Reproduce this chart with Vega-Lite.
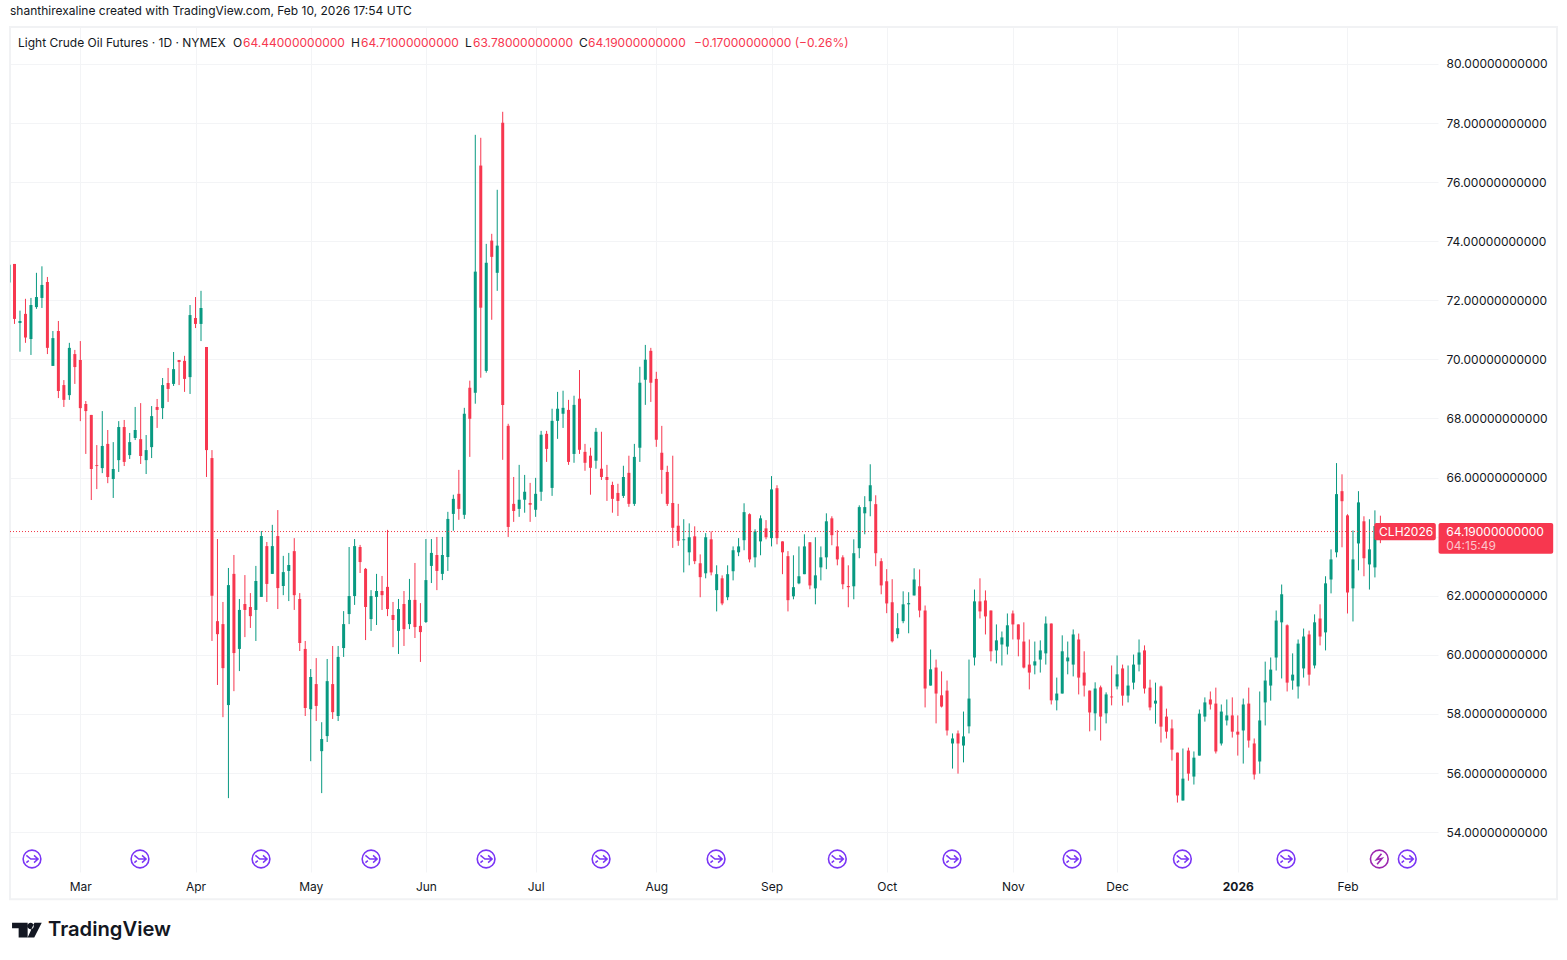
{
  "$schema": "https://vega.github.io/schema/vega-lite/v6.json",
  "autosize": "none",
  "width": 1428,
  "height": 845,
  "padding": {"left": 10, "top": 27, "right": 129, "bottom": 88},
  "background": "white",
  "title": {
    "text": "shanthirexaline created with TradingView.com, Feb 10, 2026 17:54 UTC",
    "anchor": "start",
    "frame": "group",
    "offset": 8,
    "font": "Inter",
    "fontSize": 12,
    "fontWeight": "normal",
    "color": "#131722"
  },
  "config": {
    "view": {"stroke": null},
    "font": "Inter"
  },
  "datasets": {
    "candles": [
      {"k":-1,"o":72.6,"h":73.32,"l":72.5,"c":73.2},
      {"k":0,"o":73.23,"h":73.23,"l":71.2,"c":71.37},
      {"k":1,"o":71.23,"h":71.65,"l":70.26,"c":71.3},
      {"k":2,"o":71.54,"h":72.05,"l":70.56,"c":70.74},
      {"k":3,"o":70.69,"h":72.08,"l":70.15,"c":71.84},
      {"k":4,"o":71.77,"h":72.93,"l":71.71,"c":72.11},
      {"k":5,"o":72.08,"h":73.15,"l":71.74,"c":72.52},
      {"k":6,"o":72.62,"h":72.79,"l":70.18,"c":70.39},
      {"k":7,"o":69.78,"h":70.96,"l":69.78,"c":70.72},
      {"k":8,"o":70.96,"h":71.3,"l":68.69,"c":68.93},
      {"k":9,"o":69.13,"h":69.3,"l":68.39,"c":68.63},
      {"k":10,"o":68.79,"h":70.56,"l":68.63,"c":70.39},
      {"k":11,"o":70.18,"h":70.32,"l":69.17,"c":69.74},
      {"k":12,"o":69.98,"h":70.62,"l":67.91,"c":68.35},
      {"k":13,"o":68.49,"h":68.59,"l":66.8,"c":68.25},
      {"k":14,"o":68.12,"h":68.12,"l":65.24,"c":66.29},
      {"k":15,"o":66.42,"h":67.1,"l":65.61,"c":66.39},
      {"k":16,"o":66.32,"h":68.25,"l":66.15,"c":67.07},
      {"k":17,"o":67.14,"h":67.61,"l":65.81,"c":66.02},
      {"k":18,"o":65.95,"h":67.2,"l":65.31,"c":66.29},
      {"k":19,"o":66.59,"h":67.91,"l":66.19,"c":67.71},
      {"k":20,"o":67.71,"h":67.95,"l":66.39,"c":66.53},
      {"k":21,"o":66.76,"h":67.51,"l":66.63,"c":67.2},
      {"k":22,"o":67.34,"h":68.39,"l":67.27,"c":67.61},
      {"k":23,"o":67.3,"h":68.52,"l":66.46,"c":66.73},
      {"k":24,"o":66.59,"h":67.44,"l":66.12,"c":66.93},
      {"k":25,"o":67.03,"h":68.42,"l":66.66,"c":68.08},
      {"k":26,"o":68.39,"h":68.66,"l":67.68,"c":68.29},
      {"k":27,"o":68.35,"h":69.37,"l":67.98,"c":69.13},
      {"k":28,"o":69.2,"h":69.71,"l":68.56,"c":69.0},
      {"k":29,"o":69.17,"h":70.25,"l":69.1,"c":69.67},
      {"k":30,"o":69.98,"h":69.98,"l":69.13,"c":69.91},
      {"k":31,"o":69.95,"h":70.12,"l":68.9,"c":69.34},
      {"k":32,"o":69.4,"h":71.84,"l":68.83,"c":71.5},
      {"k":33,"o":71.4,"h":72.11,"l":71.06,"c":71.2},
      {"k":34,"o":71.2,"h":72.32,"l":70.62,"c":71.74},
      {"k":35,"o":70.42,"h":70.42,"l":66.02,"c":66.93},
      {"k":36,"o":66.66,"h":66.93,"l":60.47,"c":62.0},
      {"k":37,"o":61.14,"h":63.92,"l":58.98,"c":60.7},
      {"k":38,"o":61.04,"h":61.79,"l":57.89,"c":59.55},
      {"k":39,"o":58.3,"h":62.94,"l":55.15,"c":62.36},
      {"k":40,"o":62.74,"h":63.38,"l":58.77,"c":60.06},
      {"k":41,"o":60.2,"h":61.89,"l":59.45,"c":61.52},
      {"k":42,"o":61.72,"h":62.7,"l":60.6,"c":61.52},
      {"k":43,"o":61.62,"h":62.09,"l":60.91,"c":61.31},
      {"k":44,"o":61.52,"h":63.01,"l":60.47,"c":62.5},
      {"k":45,"o":61.96,"h":64.19,"l":61.96,"c":64.02},
      {"k":46,"o":63.68,"h":63.82,"l":61.79,"c":62.4},
      {"k":47,"o":62.74,"h":64.4,"l":62.74,"c":63.68},
      {"k":48,"o":64.02,"h":64.9,"l":61.55,"c":62.26},
      {"k":49,"o":62.33,"h":63.35,"l":62.02,"c":62.8},
      {"k":50,"o":62.84,"h":63.45,"l":61.82,"c":63.04},
      {"k":51,"o":63.51,"h":63.95,"l":61.52,"c":62.02},
      {"k":52,"o":61.89,"h":62.09,"l":60.13,"c":60.4},
      {"k":53,"o":60.2,"h":60.47,"l":57.93,"c":58.2},
      {"k":54,"o":58.16,"h":59.52,"l":56.4,"c":59.25},
      {"k":55,"o":59.01,"h":59.89,"l":57.76,"c":58.27},
      {"k":56,"o":56.74,"h":57.72,"l":55.32,"c":57.15},
      {"k":57,"o":57.25,"h":59.86,"l":57.05,"c":59.11},
      {"k":58,"o":59.01,"h":60.3,"l":57.83,"c":58.06},
      {"k":59,"o":57.93,"h":60.3,"l":57.76,"c":59.93},
      {"k":60,"o":60.23,"h":61.48,"l":59.93,"c":61.04},
      {"k":61,"o":61.38,"h":63.65,"l":61.04,"c":61.99},
      {"k":62,"o":61.99,"h":63.92,"l":61.69,"c":63.68},
      {"k":63,"o":63.65,"h":63.72,"l":62.77,"c":63.14},
      {"k":64,"o":62.91,"h":62.94,"l":60.5,"c":61.62},
      {"k":65,"o":61.21,"h":62.19,"l":60.81,"c":61.99},
      {"k":66,"o":61.96,"h":62.74,"l":61.01,"c":62.16},
      {"k":67,"o":62.16,"h":62.67,"l":61.52,"c":62.02},
      {"k":68,"o":62.3,"h":64.23,"l":61.31,"c":61.55},
      {"k":69,"o":61.35,"h":61.79,"l":60.26,"c":61.18},
      {"k":70,"o":60.81,"h":61.89,"l":60.03,"c":61.55},
      {"k":71,"o":61.72,"h":62.16,"l":60.3,"c":60.87},
      {"k":72,"o":61.04,"h":62.57,"l":60.87,"c":61.86},
      {"k":73,"o":61.86,"h":63.11,"l":60.57,"c":60.94},
      {"k":74,"o":60.98,"h":61.75,"l":59.76,"c":60.77},
      {"k":75,"o":61.11,"h":63.92,"l":61.08,"c":62.53},
      {"k":76,"o":63.01,"h":63.92,"l":62.43,"c":63.45},
      {"k":77,"o":63.38,"h":63.99,"l":62.19,"c":62.84},
      {"k":78,"o":62.74,"h":63.99,"l":62.53,"c":63.38},
      {"k":79,"o":63.31,"h":64.84,"l":62.84,"c":64.6},
      {"k":80,"o":64.77,"h":65.42,"l":64.2,"c":65.28},
      {"k":81,"o":65.45,"h":66.26,"l":64.57,"c":64.94},
      {"k":82,"o":64.74,"h":68.36,"l":64.6,"c":68.16},
      {"k":83,"o":69.04,"h":69.28,"l":66.7,"c":67.99},
      {"k":84,"o":68.87,"h":77.6,"l":68.5,"c":72.97},
      {"k":85,"o":76.56,"h":77.5,"l":69.38,"c":71.75},
      {"k":86,"o":69.61,"h":73.91,"l":69.55,"c":73.27},
      {"k":87,"o":74.02,"h":74.25,"l":71.34,"c":73.47},
      {"k":88,"o":72.93,"h":75.74,"l":72.32,"c":73.85},
      {"k":89,"o":78.01,"h":78.38,"l":66.6,"c":68.46},
      {"k":90,"o":67.75,"h":67.82,"l":63.99,"c":64.33},
      {"k":91,"o":65.11,"h":66.02,"l":64.5,"c":64.87},
      {"k":92,"o":64.94,"h":66.43,"l":64.67,"c":65.25},
      {"k":93,"o":65.25,"h":66.09,"l":64.81,"c":65.52},
      {"k":94,"o":65.14,"h":65.82,"l":64.5,"c":65.08},
      {"k":95,"o":64.91,"h":65.99,"l":64.67,"c":65.45},
      {"k":96,"o":65.52,"h":67.58,"l":65.21,"c":67.45},
      {"k":97,"o":67.48,"h":67.58,"l":66.53,"c":66.97},
      {"k":98,"o":65.65,"h":68.33,"l":65.38,"c":67.92},
      {"k":99,"o":67.92,"h":68.9,"l":67.31,"c":68.33},
      {"k":100,"o":68.16,"h":68.94,"l":67.68,"c":68.36},
      {"k":101,"o":68.29,"h":68.63,"l":66.43,"c":66.53},
      {"k":102,"o":66.8,"h":68.77,"l":66.5,"c":68.46},
      {"k":103,"o":68.67,"h":69.64,"l":66.8,"c":66.94},
      {"k":104,"o":66.87,"h":67.14,"l":66.23,"c":66.5},
      {"k":105,"o":66.74,"h":67.01,"l":65.42,"c":66.33},
      {"k":106,"o":66.57,"h":67.68,"l":66.3,"c":67.55},
      {"k":107,"o":66.3,"h":67.55,"l":65.92,"c":66.02},
      {"k":108,"o":66.02,"h":66.43,"l":65.21,"c":65.92},
      {"k":109,"o":65.75,"h":65.86,"l":64.81,"c":65.28},
      {"k":110,"o":65.48,"h":65.79,"l":64.7,"c":65.21},
      {"k":111,"o":65.38,"h":66.4,"l":65.31,"c":66.02},
      {"k":112,"o":66.16,"h":66.74,"l":65.01,"c":65.11},
      {"k":113,"o":65.11,"h":67.14,"l":65.04,"c":66.7},
      {"k":114,"o":67.01,"h":69.75,"l":66.53,"c":69.21},
      {"k":115,"o":69.31,"h":70.49,"l":68.46,"c":69.99},
      {"k":116,"o":70.29,"h":70.39,"l":68.56,"c":69.21},
      {"k":117,"o":69.34,"h":69.58,"l":67.04,"c":67.28},
      {"k":118,"o":66.84,"h":67.75,"l":65.45,"c":66.26},
      {"k":119,"o":66.19,"h":66.4,"l":65.04,"c":65.11},
      {"k":120,"o":65.14,"h":66.74,"l":63.62,"c":64.3},
      {"k":121,"o":64.37,"h":65.11,"l":63.69,"c":63.86},
      {"k":122,"o":63.88,"h":64.59,"l":62.79,"c":63.91},
      {"k":123,"o":63.47,"h":64.45,"l":63.03,"c":63.98},
      {"k":124,"o":64.01,"h":64.35,"l":63.07,"c":63.17},
      {"k":125,"o":63.1,"h":63.4,"l":61.95,"c":62.63},
      {"k":126,"o":62.76,"h":64.12,"l":62.59,"c":63.98},
      {"k":127,"o":63.91,"h":64.18,"l":62.69,"c":62.79},
      {"k":128,"o":62.19,"h":63.03,"l":61.47,"c":62.73},
      {"k":129,"o":62.59,"h":62.69,"l":61.68,"c":61.74},
      {"k":130,"o":61.95,"h":63.03,"l":61.85,"c":62.73},
      {"k":131,"o":62.83,"h":63.67,"l":62.52,"c":63.54},
      {"k":132,"o":63.47,"h":63.95,"l":63.34,"c":63.67},
      {"k":133,"o":63.88,"h":65.13,"l":63.54,"c":64.83},
      {"k":134,"o":64.76,"h":64.79,"l":63.13,"c":63.23},
      {"k":135,"o":63.3,"h":64.25,"l":62.96,"c":64.18},
      {"k":136,"o":63.84,"h":64.72,"l":63.37,"c":64.62},
      {"k":137,"o":64.28,"h":64.56,"l":63.91,"c":63.98},
      {"k":138,"o":63.95,"h":66.05,"l":63.67,"c":65.6},
      {"k":139,"o":65.64,"h":65.74,"l":63.74,"c":63.95},
      {"k":140,"o":63.84,"h":63.84,"l":62.73,"c":63.47},
      {"k":141,"o":63.34,"h":63.51,"l":61.47,"c":61.85},
      {"k":142,"o":61.98,"h":63.37,"l":61.88,"c":62.29},
      {"k":143,"o":62.42,"h":63.67,"l":62.39,"c":62.66},
      {"k":144,"o":62.73,"h":64.08,"l":62.73,"c":63.67},
      {"k":145,"o":63.81,"h":63.81,"l":62.22,"c":62.35},
      {"k":146,"o":62.25,"h":63.98,"l":61.71,"c":62.69},
      {"k":147,"o":62.96,"h":63.67,"l":62.52,"c":63.3},
      {"k":148,"o":63.3,"h":64.79,"l":62.9,"c":64.52},
      {"k":149,"o":64.62,"h":64.69,"l":63.71,"c":64.05},
      {"k":150,"o":63.67,"h":64.22,"l":63.03,"c":63.23},
      {"k":151,"o":63.3,"h":63.37,"l":62.22,"c":62.39},
      {"k":152,"o":62.33,"h":63.03,"l":61.61,"c":62.29},
      {"k":153,"o":62.32,"h":63.91,"l":61.88,"c":63.44},
      {"k":154,"o":63.61,"h":65.06,"l":63.27,"c":65.0},
      {"k":155,"o":64.79,"h":65.37,"l":64.08,"c":65.0},
      {"k":156,"o":65.2,"h":66.45,"l":64.69,"c":65.74},
      {"k":157,"o":65.1,"h":65.4,"l":63.0,"c":63.44},
      {"k":158,"o":63.17,"h":63.27,"l":62.05,"c":62.35},
      {"k":159,"o":62.49,"h":62.9,"l":61.41,"c":61.74},
      {"k":160,"o":61.78,"h":62.56,"l":60.42,"c":60.46},
      {"k":161,"o":60.7,"h":61.41,"l":60.56,"c":60.9},
      {"k":162,"o":61.14,"h":62.15,"l":61.07,"c":61.71},
      {"k":163,"o":61.71,"h":62.12,"l":60.73,"c":61.75},
      {"k":164,"o":62.01,"h":62.93,"l":62.01,"c":62.55},
      {"k":165,"o":62.32,"h":62.89,"l":61.27,"c":61.5},
      {"k":166,"o":61.5,"h":61.67,"l":58.22,"c":58.86},
      {"k":167,"o":58.96,"h":60.18,"l":58.96,"c":59.51},
      {"k":168,"o":59.57,"h":59.84,"l":57.68,"c":58.69},
      {"k":169,"o":58.63,"h":59.44,"l":58.22,"c":58.25},
      {"k":170,"o":58.79,"h":59.13,"l":57.27,"c":57.44},
      {"k":171,"o":57.0,"h":57.34,"l":56.15,"c":57.17},
      {"k":172,"o":57.34,"h":57.44,"l":55.98,"c":57.0},
      {"k":173,"o":56.93,"h":58.08,"l":56.36,"c":57.24},
      {"k":174,"o":57.58,"h":59.84,"l":57.34,"c":58.52},
      {"k":175,"o":59.91,"h":62.21,"l":59.64,"c":61.81},
      {"k":176,"o":61.81,"h":62.59,"l":61.23,"c":61.47},
      {"k":177,"o":61.84,"h":62.18,"l":60.69,"c":61.3},
      {"k":178,"o":61.5,"h":61.5,"l":59.78,"c":60.12},
      {"k":179,"o":60.15,"h":61.03,"l":59.71,"c":60.49},
      {"k":180,"o":60.35,"h":60.79,"l":59.64,"c":60.59},
      {"k":181,"o":60.28,"h":61.4,"l":60.01,"c":61.0},
      {"k":182,"o":61.4,"h":61.5,"l":60.52,"c":61.03},
      {"k":183,"o":61.03,"h":61.03,"l":59.95,"c":60.52},
      {"k":184,"o":60.45,"h":61.1,"l":59.54,"c":59.57},
      {"k":185,"o":59.67,"h":60.52,"l":58.83,"c":59.4},
      {"k":186,"o":59.64,"h":60.45,"l":59.34,"c":59.78},
      {"k":187,"o":59.84,"h":60.49,"l":59.4,"c":60.15},
      {"k":188,"o":60.05,"h":61.3,"l":59.67,"c":61.06},
      {"k":189,"o":61.06,"h":61.06,"l":58.32,"c":58.46},
      {"k":190,"o":58.46,"h":59.23,"l":58.12,"c":58.69},
      {"k":191,"o":58.69,"h":60.66,"l":58.69,"c":60.12},
      {"k":192,"o":59.78,"h":60.45,"l":59.34,"c":59.91},
      {"k":193,"o":59.67,"h":60.86,"l":59.27,"c":60.69},
      {"k":194,"o":60.52,"h":60.72,"l":58.66,"c":59.23},
      {"k":195,"o":59.4,"h":60.12,"l":58.59,"c":58.96},
      {"k":196,"o":58.79,"h":58.79,"l":57.41,"c":58.05},
      {"k":197,"o":58.02,"h":59.07,"l":57.44,"c":58.86},
      {"k":198,"o":58.9,"h":58.96,"l":57.1,"c":57.91},
      {"k":199,"o":58.02,"h":58.73,"l":57.68,"c":58.66},
      {"k":200,"o":58.59,"h":59.64,"l":58.29,"c":58.56},
      {"k":201,"o":58.93,"h":59.98,"l":58.83,"c":59.34},
      {"k":202,"o":59.54,"h":59.67,"l":58.28,"c":58.62},
      {"k":203,"o":58.62,"h":59.64,"l":58.39,"c":58.96},
      {"k":204,"o":59.06,"h":60.01,"l":58.83,"c":59.67},
      {"k":205,"o":59.67,"h":60.52,"l":59.44,"c":60.08},
      {"k":206,"o":60.15,"h":60.32,"l":58.69,"c":58.86},
      {"k":207,"o":58.89,"h":59.16,"l":58.12,"c":58.22},
      {"k":208,"o":58.35,"h":59.06,"l":57.67,"c":58.45},
      {"k":209,"o":58.93,"h":58.96,"l":57.03,"c":57.57},
      {"k":210,"o":57.91,"h":58.18,"l":57.17,"c":57.4},
      {"k":211,"o":57.51,"h":57.81,"l":56.42,"c":56.79},
      {"k":212,"o":56.69,"h":56.69,"l":55.0,"c":55.24},
      {"k":213,"o":55.07,"h":56.83,"l":55.07,"c":55.81},
      {"k":214,"o":56.76,"h":56.86,"l":55.74,"c":55.98},
      {"k":215,"o":55.88,"h":56.73,"l":55.61,"c":56.52},
      {"k":216,"o":56.59,"h":58.15,"l":56.59,"c":58.01},
      {"k":217,"o":57.91,"h":58.56,"l":57.74,"c":58.39},
      {"k":218,"o":58.49,"h":58.76,"l":58.15,"c":58.32},
      {"k":219,"o":58.35,"h":58.89,"l":56.66,"c":56.73},
      {"k":220,"o":57.0,"h":58.32,"l":56.93,"c":58.08},
      {"k":221,"o":57.78,"h":58.49,"l":57.61,"c":57.95},
      {"k":222,"o":57.95,"h":58.56,"l":57.2,"c":57.4},
      {"k":223,"o":57.4,"h":57.95,"l":56.59,"c":57.3},
      {"k":224,"o":57.44,"h":58.52,"l":56.32,"c":58.32},
      {"k":225,"o":58.35,"h":58.89,"l":56.86,"c":57.1},
      {"k":226,"o":57.0,"h":57.17,"l":55.78,"c":55.95},
      {"k":227,"o":56.39,"h":58.76,"l":55.98,"c":57.78},
      {"k":228,"o":58.39,"h":59.77,"l":57.61,"c":59.13},
      {"k":229,"o":58.96,"h":59.91,"l":58.45,"c":59.5},
      {"k":230,"o":59.91,"h":61.5,"l":59.47,"c":61.16},
      {"k":231,"o":61.1,"h":62.38,"l":59.2,"c":62.05},
      {"k":232,"o":61.0,"h":61.03,"l":58.76,"c":59.06},
      {"k":233,"o":59.13,"h":60.05,"l":58.82,"c":59.33},
      {"k":234,"o":58.93,"h":60.52,"l":58.52,"c":60.38},
      {"k":235,"o":59.54,"h":60.89,"l":59.23,"c":60.62},
      {"k":236,"o":60.69,"h":60.82,"l":58.96,"c":59.33},
      {"k":237,"o":59.64,"h":61.37,"l":59.54,"c":61.1},
      {"k":238,"o":61.23,"h":61.71,"l":60.32,"c":60.62},
      {"k":239,"o":60.76,"h":62.66,"l":60.15,"c":62.42},
      {"k":240,"o":62.55,"h":63.57,"l":62.08,"c":63.23},
      {"k":241,"o":63.47,"h":66.49,"l":63.3,"c":65.44},
      {"k":242,"o":65.54,"h":66.11,"l":63.64,"c":65.2},
      {"k":243,"o":64.72,"h":64.76,"l":61.4,"c":62.11},
      {"k":244,"o":62.25,"h":64.21,"l":61.13,"c":63.23},
      {"k":245,"o":63.77,"h":65.54,"l":62.86,"c":65.16},
      {"k":246,"o":64.52,"h":64.69,"l":62.66,"c":63.27},
      {"k":247,"o":63.06,"h":64.59,"l":62.21,"c":63.57},
      {"k":248,"o":62.96,"h":64.89,"l":62.62,"c":64.36},
      {"k":249,"o":64.44,"h":64.71,"l":63.78,"c":64.19}
    ],
    "frame": [{"k":-0.82,"k2":281.2,"top":81.25,"bottom":51.73}],
    "last": [{"k":-0.82,"k2":248,"price":64.19}],
    "tags": [
      {"k":247.9,"k2":259.1,"top":64.46,"bottom":63.88},
      {"k":259.6,"k2":280.5,"top":64.46,"bottom":63.42}
    ],
    "labels": [
      {"k":0.64,"price":80.71,"kind":"ink","label":"Light Crude Oil Futures · 1D · NYMEX"},
      {"k":39.84,"price":80.71,"kind":"ink","label":"O"},
      {"k":41.66,"price":80.71,"kind":"down","label":"64.44000000000"},
      {"k":61.35,"price":80.71,"kind":"ink","label":"H"},
      {"k":63.17,"price":80.71,"kind":"down","label":"64.71000000000"},
      {"k":82.13,"price":80.71,"kind":"ink","label":"L"},
      {"k":83.59,"price":80.71,"kind":"down","label":"63.78000000000"},
      {"k":102.92,"price":80.71,"kind":"ink","label":"C"},
      {"k":104.56,"price":80.71,"kind":"down","label":"64.19000000000"},
      {"k":123.89,"price":80.71,"kind":"down","label":"−0.17000000000 (−0.26%)"},
      {"k":248.76,"price":64.17,"kind":"tag","label":"CLH2026"},
      {"k":261,"price":64.17,"kind":"tag","label":"64.19000000000"},
      {"k":261,"price":63.68,"kind":"tagdim","label":"04:15:49"}
    ],
    "dividends": [
      {"k":3.19,"price":53.09},{"k":22.88,"price":53.09},{"k":44.94,"price":53.09},
      {"k":65,"price":53.09},{"k":85.97,"price":53.09},{"k":106.93,"price":53.09},
      {"k":127.9,"price":53.09},{"k":150,"price":53.09},{"k":170.9,"price":53.09},
      {"k":192.8,"price":53.09},{"k":212.9,"price":53.09},{"k":231.8,"price":53.09},
      {"k":253.9,"price":53.09}
    ],
    "flash": [{"k":248.8,"price":53.09}],
    "brand": [{"k":2.26,"price":50.68}],
    "brandText": [{"k":6.11,"price":50.68,"label":"TradingView"}]
  },
  "layer": [
    {
      "data": {"name": "frame"},
      "mark": {"type": "rect", "filled": false, "stroke": "#f1f2f4", "strokeWidth": 2, "clip": false},
      "encoding": {
        "x": {
          "field": "k",
          "type": "quantitative",
          "scale": {"domain": [-0.82, 259.5], "nice": false, "zero": false, "padding": 0},
          "axis": {
            "values": [12, 33, 54, 75, 95, 117, 138, 159, 182, 201, 223, 243],
            "labelExpr": "{'12':'Mar','33':'Apr','54':'May','75':'Jun','95':'Jul','117':'Aug','138':'Sep','159':'Oct','182':'Nov','201':'Dec','223':'2026','243':'Feb'}[datum.value]",
            "title": null,
            "domain": false,
            "ticks": false,
            "grid": true,
            "gridColor": "#f3f4f6",
            "labelFont": "Inter",
            "labelFontSize": 12,
            "labelColor": "#131722",
            "labelPadding": 9,
            "labelFontWeight": {"condition": {"test": "datum.value === 223", "value": "bold"}, "value": "normal"}
          }
        },
        "x2": {"field": "k2"},
        "y": {
          "field": "top",
          "type": "quantitative",
          "scale": {"domain": [52.65, 81.25], "nice": false, "zero": false, "padding": 0},
          "axis": {
            "orient": "right",
            "values": [54, 56, 58, 60, 62, 64, 66, 68, 70, 72, 74, 76, 78, 80],
            "labelExpr": "datum.value === 64 ? '' : format(datum.value, '.11f')",
            "title": null,
            "domain": false,
            "ticks": false,
            "grid": true,
            "gridColor": "#f3f4f6",
            "labelFont": "Inter",
            "labelFontSize": 12,
            "labelColor": "#131722",
            "labelPadding": 8
          }
        },
        "y2": {"field": "bottom"}
      }
    },
    {
      "data": {"name": "candles"},
      "mark": {"type": "rule", "strokeWidth": 1, "clip": true},
      "encoding": {
        "x": {"field": "k", "type": "quantitative"},
        "y": {"field": "l", "type": "quantitative"},
        "y2": {"field": "h"},
        "color": {"condition": {"test": "datum.c < datum.o", "value": "#f7374f"}, "value": "#089981"}
      }
    },
    {
      "data": {"name": "candles"},
      "mark": {"type": "bar", "size": 3, "orient": "vertical", "clip": true},
      "encoding": {
        "x": {"field": "k", "type": "quantitative"},
        "y": {"field": "o", "type": "quantitative"},
        "y2": {"field": "c"},
        "color": {"condition": {"test": "datum.c < datum.o", "value": "#f7374f"}, "value": "#089981"}
      }
    },
    {
      "data": {"name": "last"},
      "mark": {"type": "rule", "color": "#f23645", "strokeWidth": 1, "strokeDash": [1, 2], "yOffset": 0.5},
      "encoding": {
        "x": {"field": "k", "type": "quantitative"},
        "x2": {"field": "k2"},
        "y": {"field": "price", "type": "quantitative"}
      }
    },
    {
      "data": {"name": "tags"},
      "mark": {"type": "rect", "color": "#f7374f", "cornerRadius": 2, "clip": false},
      "encoding": {
        "x": {"field": "k", "type": "quantitative"},
        "x2": {"field": "k2"},
        "y": {"field": "top", "type": "quantitative"},
        "y2": {"field": "bottom"}
      }
    },
    {
      "data": {"name": "labels"},
      "mark": {"type": "text", "align": "left", "baseline": "middle", "font": "Inter", "fontSize": 12, "clip": false},
      "encoding": {
        "x": {"field": "k", "type": "quantitative"},
        "y": {"field": "price", "type": "quantitative"},
        "text": {"field": "label"},
        "color": {
          "field": "kind",
          "type": "nominal",
          "legend": null,
          "scale": {"domain": ["ink", "down", "tag", "tagdim"], "range": ["#131722", "#f7374f", "#ffffff", "#fcc4cb"]}
        }
      }
    },
    {
      "data": {"name": "dividends"},
      "mark": {"type": "point", "shape": "circle", "size": 314, "filled": false, "stroke": "#7a35f5", "strokeWidth": 1.6, "opacity": 1, "clip": false},
      "encoding": {
        "x": {"field": "k", "type": "quantitative"},
        "y": {"field": "price", "type": "quantitative"}
      }
    },
    {
      "data": {"name": "dividends"},
      "mark": {
        "type": "point",
        "shape": "M-0.7,-0.45 L-0.15,0 L0.75,0 M0.25,-0.45 L0.75,0 L0.25,0.45 M-0.7,0.45 L-0.4,0.2",
        "size": 260,
        "filled": false,
        "stroke": "#7a35f5",
        "strokeWidth": 1.5,
        "opacity": 1,
        "clip": false
      },
      "encoding": {
        "x": {"field": "k", "type": "quantitative"},
        "y": {"field": "price", "type": "quantitative"}
      }
    },
    {
      "data": {"name": "flash"},
      "mark": {"type": "point", "shape": "circle", "size": 314, "filled": false, "stroke": "#9c27b0", "strokeWidth": 1.6, "opacity": 1, "clip": false},
      "encoding": {
        "x": {"field": "k", "type": "quantitative"},
        "y": {"field": "price", "type": "quantitative"}
      }
    },
    {
      "data": {"name": "flash"},
      "mark": {
        "type": "point",
        "shape": "M0.4,-0.95 L-0.5,0.12 L0.5,-0.12 L-0.4,0.95",
        "size": 120,
        "filled": false,
        "stroke": "#9c27b0",
        "strokeWidth": 1.6,
        "opacity": 1,
        "clip": false
      },
      "encoding": {
        "x": {"field": "k", "type": "quantitative"},
        "y": {"field": "price", "type": "quantitative"}
      }
    },
    {
      "data": {"name": "brand"},
      "mark": {
        "type": "point",
        "shape": "M-0.99,-0.49 L0.05,-0.49 L0.05,0.49 L-0.55,0.49 L-0.55,-0.13 L-0.99,-0.13 Z M0.04,-0.28 A0.21,0.21 0 1 0 0.46,-0.28 A0.21,0.21 0 1 0 0.04,-0.28 Z M0.5,-0.49 L0.99,-0.49 L0.49,0.49 L0.05,0.49 Z",
        "size": 900,
        "filled": true,
        "color": "#131722",
        "opacity": 1,
        "clip": false
      },
      "encoding": {
        "x": {"field": "k", "type": "quantitative"},
        "y": {"field": "price", "type": "quantitative"}
      }
    },
    {
      "data": {"name": "brandText"},
      "mark": {"type": "text", "align": "left", "baseline": "middle", "font": "Inter", "fontWeight": 600, "fontSize": 20.2, "color": "#131722", "clip": false},
      "encoding": {
        "x": {"field": "k", "type": "quantitative"},
        "y": {"field": "price", "type": "quantitative"},
        "text": {"field": "label"}
      }
    }
  ]
}
